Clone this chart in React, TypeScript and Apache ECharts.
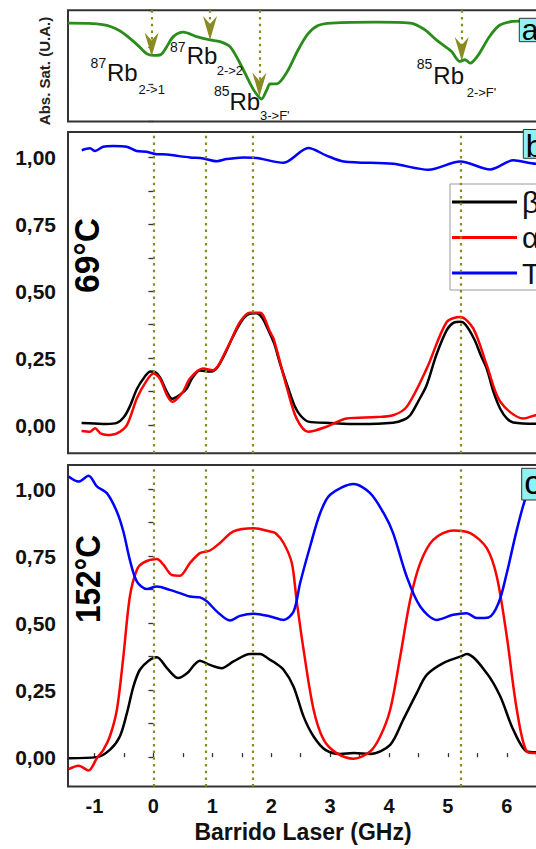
import React, { useEffect, useRef } from "react";
import * as echarts from "echarts";

// ---------- data ----------
const X_MIN = -1.45;
const X_MAX = 7.0;
const xTickValues = [-1, -0.5, 0, 0.5, 1, 1.5, 2, 2.5, 3, 3.5, 4, 4.5, 5, 5.5, 6, 6.5, 7];
const xLabelValues = [-1, 0, 1, 2, 3, 4, 5, 6];
const yTickValues = [0, 0.125, 0.25, 0.375, 0.5, 0.625, 0.75, 0.875, 1.0];
const yLabelValues = [0, 0.25, 0.5, 0.75, 1.0];
const absTickValues = [0, 1, 2, 3];

// panel a: saturated absorption spectrum (arbitrary units)
const absSat: [number, number][] = [
  [-1.455, 2.654], [-0.862, 2.616], [-0.572, 2.449], [-0.282, 2.081], [-0.109, 1.822],
  [0.0, 1.781], [0.124, 1.803], [0.214, 1.984], [0.338, 2.289], [0.508, 2.408],
  [0.735, 2.289], [0.961, 2.2], [1.131, 2.154], [1.3, 2.019], [1.47, 1.57],
  [1.64, 1.03], [1.725, 0.795], [1.835, 0.605], [1.924, 0.849], [1.98, 1.01],
  [2.097, 1.016], [2.27, 1.34], [2.445, 1.895], [2.62, 2.357], [2.795, 2.589],
  [3.025, 2.654], [3.78, 2.681], [4.36, 2.654], [4.59, 2.495], [4.825, 2.173],
  [5.058, 1.895], [5.202, 1.619], [5.29, 1.665], [5.377, 1.573], [5.52, 1.803],
  [5.696, 2.265], [5.87, 2.589], [6.1, 2.7], [6.22, 2.708], [7.0, 2.71],
];
const arrowX = [-0.03, 0.961, 1.8, 5.235];
const arrowTipY = [1.75, 2.2, 0.668, 1.63];
const transitionX = [0, 0.89, 1.68, 5.21];

// panel b: 69 °C
const beta69: [number, number][] = [
  [-1.22, 0.008], [-1.0, 0.006], [-0.8, 0.004], [-0.62, 0.008], [-0.5, 0.03], [-0.4, 0.07],
  [-0.28, 0.135], [-0.15, 0.18], [-0.05, 0.2], [0.03, 0.198], [0.12, 0.175], [0.22, 0.128],
  [0.32, 0.098], [0.45, 0.113], [0.57, 0.138], [0.66, 0.176], [0.79, 0.204], [0.96, 0.2],
  [1.08, 0.214], [1.2, 0.26], [1.35, 0.33], [1.5, 0.39], [1.62, 0.415], [1.75, 0.418],
  [1.85, 0.4], [1.95, 0.355], [2.05, 0.305], [2.15, 0.23], [2.27, 0.15], [2.4, 0.07],
  [2.5, 0.035], [2.63, 0.013], [3.0, 0.008], [3.5, 0.004], [4.07, 0.009], [4.25, 0.02],
  [4.36, 0.037], [4.5, 0.09], [4.64, 0.15], [4.8, 0.26], [4.98, 0.355], [5.1, 0.383],
  [5.21, 0.386], [5.3, 0.375], [5.45, 0.32], [5.56, 0.26], [5.66, 0.21], [5.78, 0.12],
  [5.89, 0.06], [6.0, 0.025], [6.11, 0.01], [6.5, 0.005], [7.0, 0.005],
];
const alpha69: [number, number][] = [
  [-1.22, -0.022], [-1.08, -0.025], [-0.99, -0.012], [-0.9, -0.031], [-0.78, -0.037],
  [-0.62, -0.031], [-0.45, 0.0], [-0.28, 0.1], [-0.11, 0.168], [0.0, 0.193], [0.11, 0.174],
  [0.23, 0.112], [0.32, 0.087], [0.5, 0.124], [0.62, 0.174], [0.84, 0.211], [1.01, 0.205],
  [1.25, 0.286], [1.47, 0.385], [1.64, 0.42], [1.81, 0.42], [1.98, 0.348], [2.04, 0.323],
  [2.27, 0.137], [2.43, 0.025], [2.63, -0.025], [2.94, -0.006], [3.28, 0.025], [3.79, 0.03],
  [4.07, 0.037], [4.3, 0.068], [4.64, 0.211], [4.98, 0.385], [5.21, 0.404], [5.43, 0.361],
  [5.66, 0.224], [5.89, 0.087], [6.28, 0.025], [6.5, 0.037], [7.0, 0.04],
];
const trans69: [number, number][] = [
  [-1.217, 1.027], [-1.076, 1.034], [-0.991, 1.024], [-0.851, 1.04], [-0.681, 1.043],
  [-0.453, 1.04], [-0.284, 1.024], [-0.114, 1.021], [0.056, 1.012], [0.226, 1.011],
  [0.396, 1.006], [0.621, 1.0], [0.847, 0.996], [1.075, 0.986], [1.245, 0.994],
  [1.526, 1.0], [1.754, 0.998], [2.21, 0.98], [2.63, 1.035], [2.94, 1.007], [3.23, 0.985],
  [4.07, 0.976], [4.67, 0.954], [5.21, 0.985], [5.72, 0.955], [6.11, 0.989], [6.5, 0.976],
  [7.0, 0.98],
];

// panel c: 152 °C
const beta152: [number, number][] = [
  [-1.44, -0.004], [-0.96, 0.0], [-0.74, 0.027], [-0.57, 0.077], [-0.45, 0.164],
  [-0.34, 0.263], [-0.23, 0.326], [-0.08, 0.36], [0.06, 0.373], [0.23, 0.332], [0.42, 0.295],
  [0.57, 0.313], [0.79, 0.36], [0.96, 0.344], [1.16, 0.332], [1.36, 0.357], [1.64, 0.385],
  [1.81, 0.385], [1.98, 0.363], [2.07, 0.351], [2.21, 0.326], [2.38, 0.263], [2.55, 0.151],
  [2.72, 0.077], [2.92, 0.027], [3.17, 0.012], [3.4, 0.015], [3.68, 0.012], [4.02, 0.046],
  [4.24, 0.139], [4.47, 0.239], [4.64, 0.307], [4.92, 0.351], [5.21, 0.375], [5.32, 0.385],
  [5.66, 0.313], [5.89, 0.226], [6.11, 0.102], [6.34, 0.021], [6.5, 0.018], [7.0, 0.018],
];
const alpha152: [number, number][] = [
  [-1.44, -0.045], [-1.27, -0.032], [-1.1, -0.05], [-0.96, -0.004], [-0.85, 0.027],
  [-0.74, 0.077], [-0.62, 0.177], [-0.51, 0.375], [-0.4, 0.599], [-0.28, 0.699],
  [-0.17, 0.726], [0.06, 0.739], [0.17, 0.718], [0.31, 0.68], [0.45, 0.677], [0.62, 0.724],
  [0.79, 0.761], [0.96, 0.771], [1.13, 0.799], [1.36, 0.842], [1.7, 0.854], [1.98, 0.842],
  [2.07, 0.836], [2.21, 0.799], [2.35, 0.724], [2.43, 0.587], [2.55, 0.4], [2.72, 0.177],
  [2.89, 0.065], [3.11, 0.015], [3.4, -0.006], [3.68, 0.021], [3.85, 0.077], [4.02, 0.177],
  [4.19, 0.375], [4.36, 0.587], [4.53, 0.724], [4.75, 0.811], [5.09, 0.846], [5.38, 0.836],
  [5.66, 0.78], [5.83, 0.674], [6.0, 0.45], [6.17, 0.177], [6.34, 0.021], [6.5, 0.015],
  [7.0, 0.015],
];
const trans152: [number, number][] = [
  [-1.44, 1.047], [-1.27, 1.028], [-1.1, 1.05], [-0.96, 1.01], [-0.79, 0.985], [-0.62, 0.916],
  [-0.51, 0.842], [-0.4, 0.736], [-0.28, 0.655], [-0.11, 0.627], [0.06, 0.637], [0.28, 0.624],
  [0.45, 0.612], [0.62, 0.599], [0.79, 0.596], [0.91, 0.581], [1.08, 0.543], [1.3, 0.51],
  [1.47, 0.527], [1.7, 0.535], [1.98, 0.525], [2.21, 0.512], [2.38, 0.543], [2.49, 0.649],
  [2.66, 0.786], [2.83, 0.91], [3.0, 0.979], [3.4, 1.019], [3.68, 0.985], [3.91, 0.91],
  [4.07, 0.836], [4.3, 0.674], [4.53, 0.562], [4.81, 0.512], [5.09, 0.531], [5.32, 0.537],
  [5.49, 0.519], [5.69, 0.521], [5.86, 0.575], [6.0, 0.687], [6.17, 0.848], [6.34, 0.979],
  [6.5, 1.03], [7.0, 1.05],
];

const legendNames = ["β", "α", "T"];

// ---------- styles ----------
const FONT = "'Liberation Sans', Arial, Helvetica, sans-serif";
const OLIVE = "#8a8a22";
const GREEN = "#2a8c1a";
const ARROW = "path://M0,0L7,8L14,0L7,24Z";
const dotted = { type: [2.5, 4.2], color: OLIVE, width: 2.2 };

const fmt = (v: number) => v.toFixed(2).replace(".", ",");

function supLabel(sup: string, main: string, sub: string, x: number, ys: number, ym: number, xm: number, xsub: number, ysub: number) {
  const base = { fill: "#111", fontFamily: FONT, verticalAlign: "middle", align: "left" };
  return [
    { type: "text", x, y: ys, z: 50, style: { ...base, text: sup, fontSize: 14 } },
    { type: "text", x: xm, y: ym, z: 50, style: { ...base, text: main, fontSize: 24 } },
    { type: "text", x: xsub, y: ysub, z: 50, style: { ...base, text: sub, fontSize: 13 } },
  ];
}

function panelBox(letter: string, x: number, y: number, h: number, ty: number, fs: number) {
  return [
    { type: "rect", x, y, z: 60, shape: { width: 32, height: h }, style: { fill: "#8ff2f2", stroke: "#333", lineWidth: 1 } },
    { type: "text", x: x + 2.5, y: ty, z: 61, style: { text: letter, fontSize: fs, fontFamily: FONT, fill: "#000", verticalAlign: "middle", align: "left" } },
  ];
}

export default function App() {
  const ref = useRef<HTMLDivElement>(null);
  useEffect(() => {
    if (!ref.current) return;
    const chart = echarts.init(ref.current, null, { renderer: "svg" });
    const gridW = 68;
    const width = (X_MAX - X_MIN) * 58.9;
    const gridBase = { left: gridW, width, show: true, borderColor: "#333", borderWidth: 2, backgroundColor: "transparent" };
    const hiddenX = {
      type: "value", min: X_MIN, max: X_MAX,
      axisLine: { show: false }, axisTick: { show: false }, axisLabel: { show: false }, splitLine: { show: false },
    };
    const yValAxis = (gi: number, min: number, max: number) => ({
      type: "value", gridIndex: gi, min, max,
      axisLine: { show: false }, splitLine: { show: false },
      axisTick: { show: true, length: 5, customValues: yTickValues, lineStyle: { color: "#333", width: 1.3 } },
      axisLabel: {
        show: true, customValues: yLabelValues, formatter: fmt, margin: 12,
        fontSize: 21, fontWeight: "bold", fontFamily: FONT, color: "#111",
      },
    });
    const lineSeries = (name: string, color: string, data: [number, number][], gi: number, extra: any = {}) => ({
      type: "line", name, data, xAxisIndex: gi, yAxisIndex: gi,
      symbol: "none", showSymbol: false, smooth: 0.3, silent: true,
      lineStyle: { color, width: 2.5 }, itemStyle: { color },
      ...extra,
    });
    const vLines = {
      silent: true, symbol: ["none", "none"], label: { show: false },
      lineStyle: dotted,
      data: transitionX.map((x) => ({ xAxis: x })),
    };

    const option: any = {
      animation: false,
      textStyle: { fontFamily: FONT },
      grid: [
        { ...gridBase, top: 10.3, height: 111.1 },
        { ...gridBase, top: 132, height: 321.2 },
        { ...gridBase, top: 465, height: 321.6 },
      ],
      xAxis: [
        { ...hiddenX, gridIndex: 0 },
        { ...hiddenX, gridIndex: 1 },
        {
          type: "value", gridIndex: 2, min: X_MIN, max: X_MAX,
          axisLine: { show: false }, splitLine: { show: false },
          axisTick: { show: true, inside: true, length: 4, customValues: xTickValues, lineStyle: { color: "#333", width: 1.3 } },
          axisLabel: {
            show: true, customValues: xLabelValues, margin: 9,
            fontSize: 20, fontWeight: "bold", fontFamily: FONT, color: "#111",
          },
        },
      ],
      yAxis: [
        {
          type: "value", gridIndex: 0, min: 0, max: 3,
          axisLine: { show: false }, splitLine: { show: false }, axisLabel: { show: false },
          axisTick: { show: true, length: 5, customValues: absTickValues, lineStyle: { color: "#333", width: 1.3 } },
        },
        yValAxis(1, -0.105, 1.095),
        yValAxis(2, -0.11, 1.09),
      ],
      legend: {
        data: legendNames.map((n) => ({ name: n, icon: "rect" })), orient: "vertical", left: 450, top: 184,
        itemWidth: 65, itemHeight: 3, itemGap: 1.5, selectedMode: false,
        padding: [1, 40, 0, 2], backgroundColor: "#fff", borderColor: "#999", borderWidth: 1,
        textStyle: { fontSize: 30, fontFamily: FONT, color: "#111", lineHeight: 34 },
      },
      series: [
        lineSeries("Abs", GREEN, absSat, 0, {
          lineStyle: { color: GREEN, width: 2.8 },
          markLine: {
            silent: true, symbol: ["none", "none"], label: { show: false }, lineStyle: dotted,
            data: arrowX.map((x, i) => [{ coord: [x, 3] }, { coord: [x, arrowTipY[i] + 0.35] }]),
          },
          markPoint: {
            silent: true, symbol: ARROW, symbolSize: [14, 24], symbolOffset: [0, "-50%"],
            itemStyle: { color: OLIVE }, label: { show: false },
            data: arrowX.map((x, i) => ({ coord: [x, arrowTipY[i]] })),
          },
        }),
        lineSeries("β", "#000000", beta69, 1, { markLine: vLines }),
        lineSeries("α", "#ff0000", alpha69, 1),
        lineSeries("T", "#0000ff", trans69, 1),
        lineSeries("β", "#000000", beta152, 2, { markLine: vLines }),
        lineSeries("α", "#ff0000", alpha152, 2),
        lineSeries("T", "#0000ff", trans152, 2),
      ],
      graphic: [
        ...supLabel("87", "Rb", "2->1", 90.6, 63, 72.9, 107, 138.5, 89.3),
        ...supLabel("87", "Rb", "2->2", 170, 46.7, 55.8, 186.7, 216.7, 70.8),
        ...supLabel("85", "Rb", "3->F'", 214, 91, 101.5, 229.5, 260, 115.3),
        ...supLabel("85", "Rb", "2->F'", 416.7, 64.2, 75, 433.3, 466.7, 92.5),
        ...panelBox("a", 519.3, 18.3, 23.4, 29.3, 30),
        ...panelBox("b", 523.3, 129.5, 28.8, 145.5, 32),
        ...panelBox("c", 521.7, 468.3, 31.7, 482, 34),
        {
          type: "text", x: 44.5, y: 71, rotation: Math.PI / 2, z: 50,
          style: { text: "Abs. Sat. (U.A.)", fontSize: 15, fontWeight: "bold", fontFamily: FONT, fill: "#222", align: "center", verticalAlign: "middle" },
        },
        {
          type: "text", x: 86.7, y: 255.5, rotation: Math.PI / 2, scaleX: 0.96, z: 50,
          style: { text: "69°C", fontSize: 35, fontWeight: "bold", fontFamily: FONT, fill: "#000", align: "center", verticalAlign: "middle" },
        },
        {
          type: "text", x: 87.5, y: 579, rotation: Math.PI / 2, scaleX: 0.9, z: 50,
          style: { text: "152°C", fontSize: 35, fontWeight: "bold", fontFamily: FONT, fill: "#000", align: "center", verticalAlign: "middle" },
        },
        {
          type: "text", x: 303, y: 831.7, z: 50,
          style: { text: "Barrido Laser (GHz)", fontSize: 23, fontWeight: "bold", fontFamily: FONT, fill: "#111", align: "center", verticalAlign: "middle" },
        },
      ],
    };
    chart.setOption(option);
    return () => chart.dispose();
  }, []);

  return (
    <div style={{ position: "fixed", left: 0, top: 0, width: 536, height: 849, overflow: "hidden", background: "#fff" }}>
      <div ref={ref} style={{ width: 600, height: 849 }} />
    </div>
  );
}
